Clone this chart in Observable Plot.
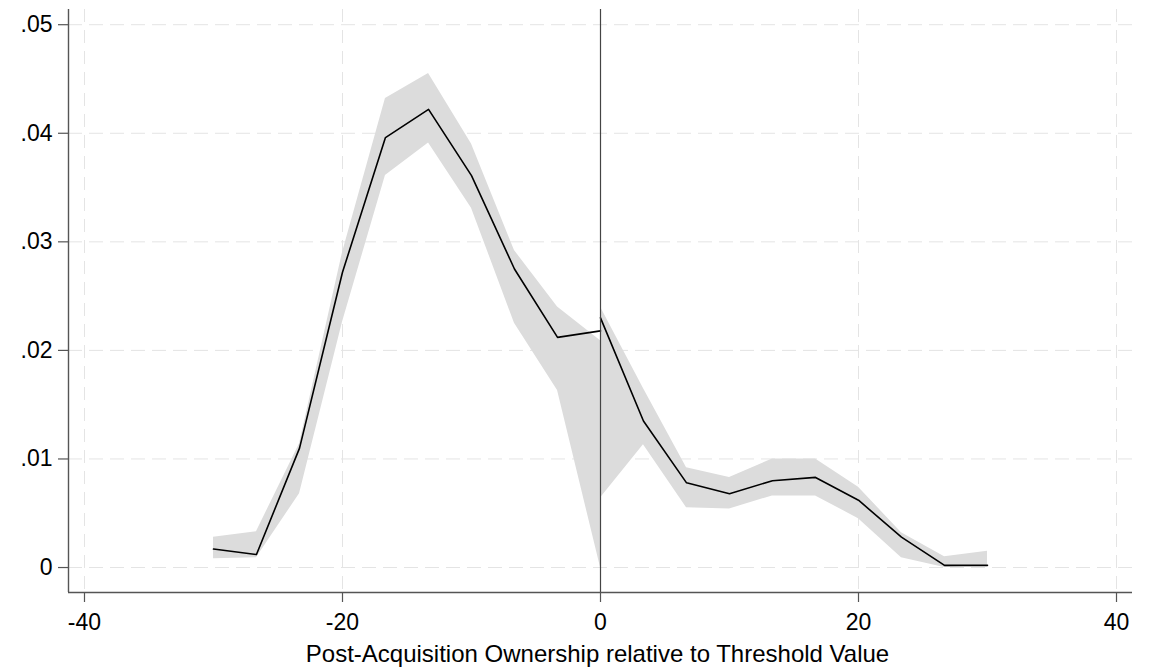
<!DOCTYPE html>
<html>
<head>
<meta charset="utf-8">
<script src="https://cdn.jsdelivr.net/npm/d3@7"></script>
<script src="https://cdn.jsdelivr.net/npm/@observablehq/plot@0.6"></script>
<style>
  html, body { margin: 0; padding: 0; background: #fff; }
  #chart svg { display: block; }
</style>
</head>
<body>
<div id="chart"></div>
<script>
// Bin midpoints on each side of the threshold
const binLeft  = [-30, -26.67, -23.33, -20, -16.67, -13.33, -10, -6.67, -3.33, 0];
const binRight = [0, 3.33, 6.67, 10, 13.33, 16.67, 20, 23.33, 26.67, 30];

// Estimated density and its confidence band, left of the threshold
const estLeft = [0.0017, 0.0012, 0.0110, 0.0272, 0.0396, 0.0422, 0.0361, 0.0275, 0.0212, 0.0218];
const loLeft  = [0.0008, 0.0009, 0.0068, 0.0226, 0.0361, 0.0391, 0.0331, 0.0225, 0.0163, 0.0000];
const hiLeft  = [0.0028, 0.0033, 0.0114, 0.0290, 0.0432, 0.0455, 0.0390, 0.0292, 0.0240, 0.0209];

// Estimated density and its confidence band, right of the threshold
const estRight = [0.0230, 0.0135, 0.0078, 0.0068, 0.0080, 0.0083, 0.0062, 0.0028, 0.0002, 0.0002];
const loRight  = [0.0064, 0.0113, 0.0055, 0.0054, 0.0066, 0.0066, 0.0045, 0.0009, 0.0000, 0.0002];
const hiRight  = [0.0240, 0.0165, 0.0092, 0.0083, 0.0100, 0.0100, 0.0074, 0.0032, 0.0010, 0.0015];

// Axis ticks and title
const xTicks = [-40, -20, 0, 20, 40];
const yTicks = [0, 0.01, 0.02, 0.03, 0.04, 0.05];
const yTickLabels = ["0", ".01", ".02", ".03", ".04", ".05"];
const xTitle = "Post-Acquisition Ownership relative to Threshold Value";

const rows = [
  ...binLeft.map((x, i) => ({side: "left", x, est: estLeft[i], lo: loLeft[i], hi: hiLeft[i]})),
  ...binRight.map((x, i) => ({side: "right", x, est: estRight[i], lo: loRight[i], hi: hiRight[i]}))
];

const font = "'Liberation Sans', Arial, Helvetica, sans-serif";
const axisColor = "#555";

const chart = Plot.plot({
  width: 1158,
  height: 668,
  marginLeft: 68,
  marginRight: 26,
  marginTop: 9,
  marginBottom: 76,
  style: {fontFamily: font, fontSize: "23px", color: "#000", background: "#fff"},
  x: {domain: [-41.24, 41.24]},
  y: {domain: [-0.0023, 0.0514]},
  marks: [
    Plot.gridY(yTicks, {stroke: "#e4e4e4", strokeOpacity: 1, strokeDasharray: "14,7"}),
    Plot.gridX([-40, -20, 20, 40], {stroke: "#e4e4e4", strokeOpacity: 1, strokeDasharray: "13,8"}),
    Plot.areaY(rows, {x: "x", y1: "lo", y2: "hi", z: "side", fill: "#dcdcdc", fillOpacity: 1}),
    Plot.lineY(rows, {x: "x", y: "est", z: "side", stroke: "#000", strokeWidth: 1.6}),
    Plot.ruleX([0], {stroke: "#444", strokeWidth: 1.2}),
    Plot.ruleY([-0.0023], {stroke: axisColor, strokeWidth: 1.4}),
    Plot.ruleX([-41.24], {stroke: axisColor, strokeWidth: 1.4}),
    Plot.axisY(yTicks, {
      tickSize: 10, tickPadding: 6, stroke: axisColor, strokeWidth: 1.2,
      fontSize: 23, fill: "#000",
      tickFormat: (d, i) => yTickLabels[i], label: null
    }),
    Plot.axisX(xTicks, {
      tickSize: 10, tickPadding: 11, stroke: axisColor, strokeWidth: 1.2,
      fontSize: 23, fill: "#000",
      tickFormat: d => d === 0 ? "0" : String(d).replace("\u2212", "-"),
      label: null
    }),
    Plot.text([xTitle], {
      frameAnchor: "bottom", lineAnchor: "middle", dy: 62, dx: -3,
      fontSize: 24, fill: "#000", text: d => d
    })
  ]
});

document.getElementById("chart").append(chart);
</script>
</body>
</html>
